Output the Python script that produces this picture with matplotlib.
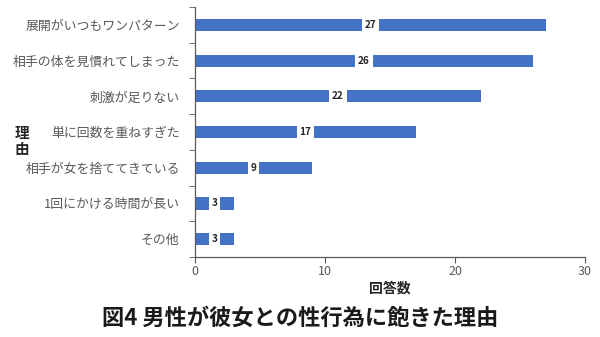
import matplotlib
matplotlib.use("Agg")
import matplotlib.pyplot as plt

plt.rcParams['font.family'] = ['Noto Sans CJK JP', 'DejaVu Sans']

reasons = [
    "展開がいつもワンパターン",
    "相手の体を見慣れてしまった",
    "刺激が足りない",
    "単に回数を重ねすぎた",
    "相手が女を捨ててきている",
    "1回にかける時間が長い",
    "その他",
]
counts = [27, 26, 22, 17, 9, 3, 3]
x_ticks = [0, 10, 20, 30]

title = "図4 男性が彼女との性行為に飽きた理由"
bar_color = "#4472C4"
gray = "#595959"

fig = plt.figure(figsize=(6.0, 3.37), dpi=100)
ax = fig.add_axes([195 / 600, 1 - 257 / 337, 390 / 600, 250 / 337])

ypos = list(range(len(reasons)))
ax.barh(ypos, counts, height=0.34, color=bar_color)
for y, v in zip(ypos, counts):
    ax.text(v / 2, y, str(v), ha='center', va='center', fontsize=7.2,
            fontweight='bold', color='#262626',
            bbox=dict(boxstyle='square,pad=0.3', fc='white', ec='none'))

ax.set_ylim(len(reasons) - 0.5, -0.5)
ax.set_xlim(0, 30)
ax.set_xticks(x_ticks)
ax.set_yticks(ypos)
ax.set_yticklabels(reasons)
ax.set_yticks([i - 0.5 for i in range(len(reasons) + 1)], minor=True)

ax.tick_params(axis='y', which='major', length=0, pad=11, labelsize=9.3, labelcolor=gray)
ax.tick_params(axis='y', which='minor', length=4, color=gray, direction='out')
ax.tick_params(axis='x', length=4, color=gray, labelsize=9, labelcolor=gray, pad=2)

for s in ['top', 'right']:
    ax.spines[s].set_visible(False)
for s in ['left', 'bottom']:
    ax.spines[s].set_color(gray)
    ax.spines[s].set_linewidth(0.9)

ax.set_xlabel("回答数", fontsize=10, fontweight='bold', color='#262626', labelpad=2)
fig.text(22 / 600, 1 - 141 / 337, "理\n由", ha='center', va='center',
         fontsize=10.5, fontweight='bold', color='#262626', linespacing=1.05)

fig.text(0.5, 1 - 318 / 337, title, ha='center', va='center',
         fontsize=16, fontweight='bold', color='#1a1a1a')

fig.savefig("out.png", dpi=100, facecolor='white')
